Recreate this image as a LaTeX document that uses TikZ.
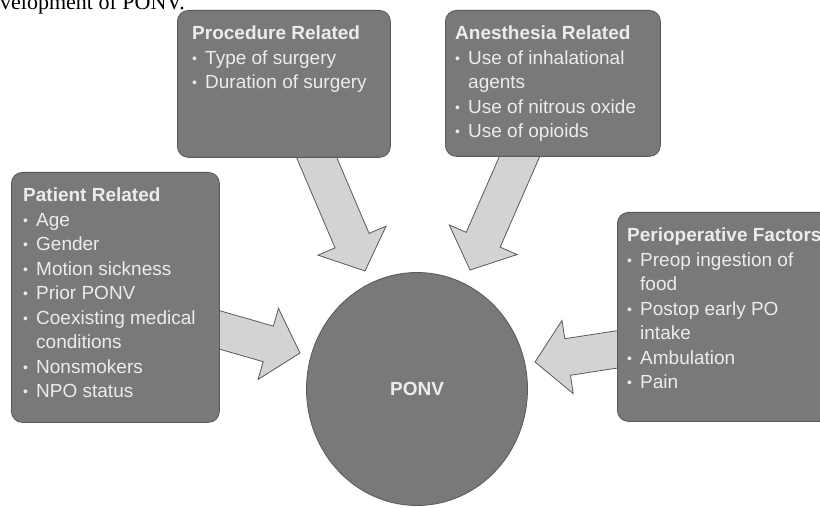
\documentclass[tikz,border=0pt]{standalone}
\usepackage{fontspec}
\newfontfamily\sansfam{Liberation Sans}
\newfontfamily\seriffam{Liberation Serif}
\usetikzlibrary{calc,backgrounds,shapes.geometric}
\definecolor{boxgray}{RGB}{119,121,123}
\definecolor{edgegray}{RGB}{88,89,91}
\definecolor{arrowgray}{RGB}{209,211,212}
\definecolor{textgray}{RGB}{236,236,236}
\tikzset{
	factor/.style={draw=edgegray, fill=boxgray, rounded corners=11pt, line width=0.8pt, anchor=north west, inner sep=0pt},
	factortext/.style={anchor=north west, inner sep=0pt, align=left, text=textgray, font=\sansfam\fontsize{19}{24.5}\selectfont},
	flow/.style={draw=edgegray, fill=arrowgray, line width=0.8pt, line join=miter},
}
\newcommand{\itm}{\makebox[13pt][l]{\raisebox{1pt}{\fontsize{14}{14}\selectfont\textbullet}}}
\newcommand{\cont}{\hspace*{13pt}}
% block arrow from #1 to the tip #2
\newcommand{\blockarrow}[2]{%
	\coordinate (hb) at ($(#2)!33pt!(#1)$);
	\draw[flow] ($(#1)!18.5pt!90:(#2)$) -- ($(hb)!18.5pt!-90:(#1)$) -- ($(hb)!37pt!-90:(#1)$) -- (#2)
		-- ($(hb)!37pt!90:(#1)$) -- ($(hb)!18.5pt!90:(#1)$) -- ($(#1)!18.5pt!-90:(#2)$) -- cycle;
}
\begin{document}
\begin{tikzpicture}[x=1pt,y=1pt]
	\useasboundingbox (0,0) rectangle (820,507);
	\clip (0,0) rectangle (820,507);
	\node[anchor=base west, inner sep=0pt, font=\seriffam\fontsize{22}{26}\selectfont] (caption) at (0,497) {velopment of PONV.};
	% the four groups of factors
	\node[factor, minimum width=213, minimum height=147] (proc) at (177,497) {};
	\node[factortext] (proctxt) at ([shift={(15,-16)}]proc.north west)
		{\textbf{Procedure Related}\\ \itm Type of surgery\\ \itm Duration of surgery};
	\node[factor, minimum width=215, minimum height=146] (anes) at (445,497) {};
	\node[factortext] (anestxt) at ([shift={(10,-16)}]anes.north west)
		{\textbf{Anesthesia Related}\\ \itm Use of inhalational\\ \cont agents\\ \itm Use of nitrous oxide\\ \itm Use of opioids};
	\node[factor, minimum width=208, minimum height=250] (pat) at (11,335) {};
	\node[factortext] (pattxt) at ([shift={(12,-16)}]pat.north west)
		{\textbf{Patient Related}\\ \itm Age\\ \itm Gender\\ \itm Motion sickness\\ \itm Prior PONV\\ \itm Coexisting medical\\ \cont conditions\\ \itm Nonsmokers\\ \itm NPO status};
	\node[factor, minimum width=220, minimum height=209] (peri) at (617,295) {};
	\node[factortext] (peritxt) at ([shift={(10,-16)}]peri.north west)
		{\textbf{Perioperative Factors}\\ \itm Preop ingestion of\\ \cont food\\ \itm Postop early PO\\ \cont intake\\ \itm Ambulation\\ \itm Pain};
	\node[ellipse, draw=edgegray, fill=boxgray, line width=0.8pt, minimum width=221, minimum height=233, inner sep=0pt,
		text=textgray, font=\sansfam\bfseries\fontsize{19}{22}\selectfont] (ponv) at (417,118) {PONV};
	% arrows go under the boxes
	\begin{pgfonlayer}{background}
		\coordinate (procout) at ([shift={(29,9)}]proc.south);
		\coordinate (proctip) at ([shift={(-52,118)}]ponv.center);
		\blockarrow{procout}{proctip}
		\coordinate (anesout) at ([shift={(-30,8)}]anes.south);
		\coordinate (anestip) at ([shift={(53,119)}]ponv.center);
		\blockarrow{anesout}{anestip}
		\coordinate (patout) at ([shift={(-9,-30)}]pat.east);
		\coordinate (pattip) at ([shift={(-117,36)}]ponv.center);
		\blockarrow{patout}{pattip}
		\coordinate (periout) at ([shift={(13,-30.5)}]peri.west);
		\coordinate (peritip) at ([shift={(118,27)}]ponv.center);
		\blockarrow{periout}{peritip}
	\end{pgfonlayer}
\end{tikzpicture}
\end{document}
